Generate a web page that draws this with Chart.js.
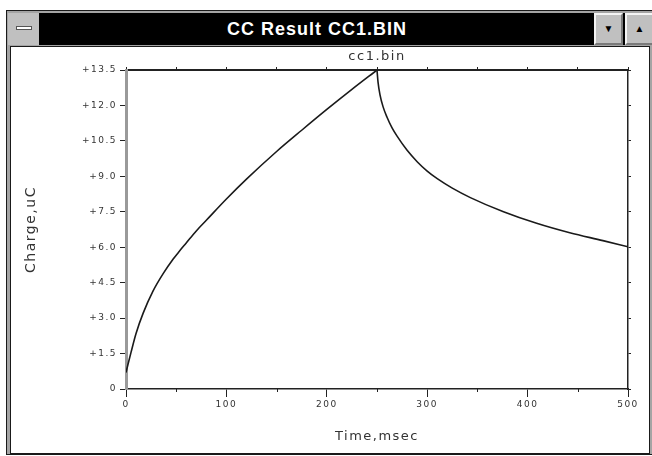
<!DOCTYPE html>
<html>
<head>
<meta charset="utf-8">
<title>CC Result CC1.BIN</title>
<script src="https://cdn.jsdelivr.net/npm/chart.js@4.4.1/dist/chart.umd.min.js"></script>
<style>
  html, body { margin: 0; padding: 0; background: #fff; }
  body { width: 652px; height: 456px; position: relative; overflow: hidden; font-family: "Liberation Sans", Arial, sans-serif; }
  .abs { position: absolute; box-sizing: border-box; }
  #frame { left: 6px; top: 10px; width: 660px; height: 445px; border: 1px solid #1a1a1a; background: #a4a4a4; }
  #bar { left: 8px; top: 13px; width: 650px; height: 32px; background: #000; }
  #client { left: 10px; top: 46px; width: 640px; height: 408px; background: #fff; border: 1px solid #1a1a1a; }
  #caption { left: 40px; top: 13px; width: 554px; height: 32px; line-height: 32px; text-align: center;
             color: #fff; font-weight: bold; font-size: 18px; letter-spacing: 1px; }
  .btn { top: 13px; height: 32px; background: #c0c0c0; border-top: 2px solid #f4f4f4; border-left: 2px solid #f4f4f4;
         border-right: 2px solid #7a7a7a; border-bottom: 2px solid #7a7a7a; text-align: center; line-height: 27px;
         font-size: 10px; color: #000; }
  #sys { left: 8px; width: 32px; border: none; border-right: 1px solid #000; }
  #sys span { position: absolute; left: 8px; top: 13px; width: 16px; height: 4px; background: #fff; border: 1px solid #555; box-sizing: border-box; }
  #down { left: 594px; width: 29px; }
  #up { left: 625px; width: 29px; }
  #chart { position: absolute; left: 0; top: 0; z-index: 5; }
</style>
</head>
<body>
<div id="frame" class="abs"></div>
<div id="bar" class="abs"></div>
<div id="client" class="abs"></div>
<div id="sys" class="abs btn"><span></span></div>
<div id="caption" class="abs">CC Result CC1.BIN</div>
<div id="down" class="abs btn">&#9660;</div>
<div id="up" class="abs btn">&#9650;</div>
<canvas id="chart" width="652" height="456"></canvas>
<script>
// forward step (charge builds up)
const riseTime   = [0, 2, 5, 10, 17, 27, 37, 47, 52, 60, 70, 80, 100, 120, 150, 175, 200, 225, 250];
const riseCharge = [0.7, 1.05, 1.55, 2.35, 3.2, 4.15, 4.88, 5.5, 5.77, 6.18, 6.69, 7.14, 8.04, 8.88, 10.05, 10.95, 11.83, 12.68, 13.5];

// reverse step (charge falls back)
const decayTime   = [250, 251, 253, 256, 260, 265, 270, 280, 290, 300, 310, 325, 343, 376, 409, 442, 475, 500];
const decayCharge = [13.5, 13.0, 12.45, 11.95, 11.5, 11.05, 10.7, 10.1, 9.62, 9.22, 8.9, 8.5, 8.1, 7.5, 7.01, 6.61, 6.28, 6.02];

// axes
const timeTicks   = [0, 100, 200, 300, 400, 500];
const timeMinor   = [50, 150, 250, 350, 450];
const timeTop     = [0, 50, 100, 150, 200, 250, 300, 350, 400, 450, 500];
const chargeTicks = [0, 1.5, 3.0, 4.5, 6.0, 7.5, 9.0, 10.5, 12.0, 13.5];

const ink = '#222';
Chart.defaults.font.family = '"DejaVu Sans", sans-serif';

const toPoints = (xs, ys) => xs.map((x, i) => ({ x: x, y: ys[i] }));
const useTicks = list => scale => { scale.ticks = list.map(v => ({ value: v })); };

// wide old-style lettering + the short minor ticks under the time axis
const oldStyle = {
  id: 'oldStyle',
  beforeLayout(chart) { chart.ctx.letterSpacing = '1.5px'; },
  beforeDraw(chart) { chart.ctx.letterSpacing = '1.5px'; },
  afterDraw(chart) {
    const { ctx, chartArea, scales } = chart;
    ctx.save();
    ctx.strokeStyle = ink;
    ctx.lineWidth = 1;
    timeMinor.forEach(v => {
      const x = Math.round(scales.x.getPixelForValue(v)) + 0.5;
      ctx.beginPath();
      ctx.moveTo(x, chartArea.bottom);
      ctx.lineTo(x, chartArea.bottom + 3);
      ctx.stroke();
    });
    ctx.restore();
  }
};

const line = {
  borderColor: '#1a1a1a',
  borderWidth: 1.6,
  pointRadius: 0,
  fill: false,
  cubicInterpolationMode: 'monotone'
};

new Chart(document.getElementById('chart').getContext('2d'), {
  type: 'line',
  data: {
    datasets: [
      Object.assign({ label: 'forward', data: toPoints(riseTime, riseCharge) }, line),
      Object.assign({ label: 'reverse', data: toPoints(decayTime, decayCharge) }, line)
    ]
  },
  plugins: [oldStyle],
  options: {
    responsive: false,
    animation: false,
    layout: { padding: { left: 14, top: 46, right: 6, bottom: 4 } },
    plugins: { legend: { display: false }, tooltip: { enabled: false }, title: { display: false } },
    scales: {
      x: {
        type: 'linear', position: 'bottom', min: 0, max: 500,
        afterBuildTicks: useTicks(timeTicks),
        afterFit: s => { s.height = 63; },
        ticks: { color: '#333', font: { size: 9 }, padding: 2, maxRotation: 0, callback: v => String(v) },
        grid: { drawOnChartArea: false, tickLength: 8, color: ink },
        border: { color: ink, width: 1.5 },
        title: { display: true, text: 'Time,msec', color: '#333', font: { size: 13 }, padding: { top: 0, bottom: 8 } }
      },
      x2: {
        type: 'linear', position: 'top', min: 0, max: 500,
        afterBuildTicks: useTicks(timeTop),
        afterFit: s => { s.height = 24; },
        ticks: { display: false },
        grid: { drawOnChartArea: false, tickLength: 3, color: ink },
        border: { color: ink, width: 2 },
        title: { display: true, text: 'cc1.bin', color: '#333', font: { size: 13 }, padding: { top: 3, bottom: 0 } }
      },
      y: {
        type: 'linear', position: 'left', min: 0, max: 13.5,
        afterBuildTicks: useTicks(chargeTicks),
        afterFit: s => { s.width = 112; },
        ticks: { color: '#333', font: { size: 9 }, padding: 3, callback: v => v === 0 ? '0' : '+' + v.toFixed(1) },
        grid: { drawOnChartArea: false, tickLength: 6, color: ink },
        border: { color: '#9a9a9a', width: 3 },
        title: { display: true, text: 'Charge,uC', color: '#333', font: { size: 14 }, padding: { top: 9, bottom: 0 } }
      },
      y2: {
        type: 'linear', position: 'right', min: 0, max: 13.5,
        afterBuildTicks: useTicks(chargeTicks),
        afterFit: s => { s.width = 18; },
        ticks: { display: false },
        grid: { drawOnChartArea: false, tickLength: 3, color: ink },
        border: { color: ink, width: 1.5 }
      }
    }
  }
});
</script>
</body>
</html>
